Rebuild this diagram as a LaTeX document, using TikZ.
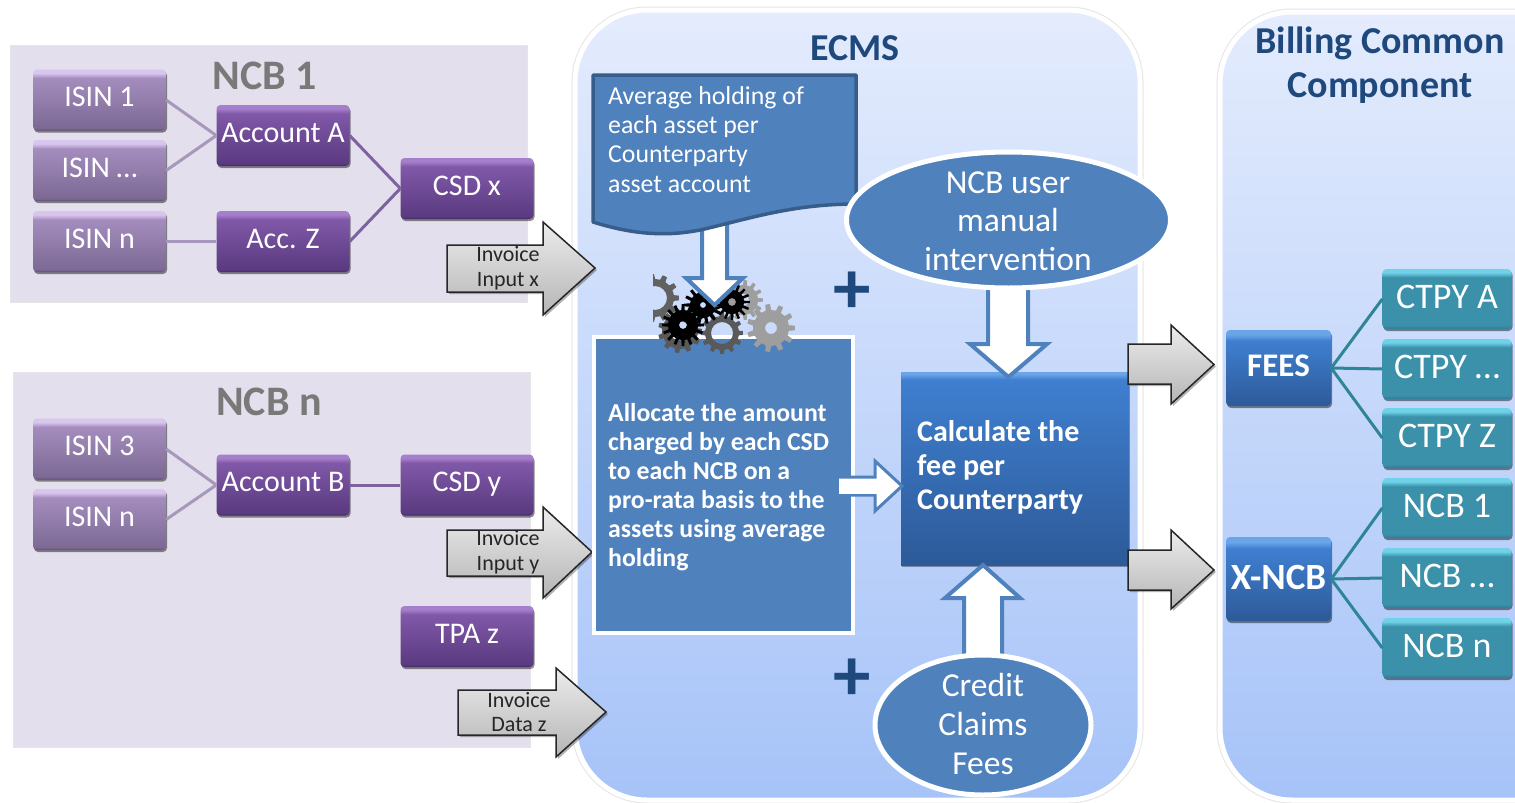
\documentclass[tikz,border=0pt]{standalone}
\usepackage{fontspec}
\setmainfont{Carlito}
\usetikzlibrary{shadows,calc,shapes.geometric}
\definecolor{docblue}{HTML}{4F81BD}
\definecolor{docedge}{HTML}{385D8A}
\definecolor{navy}{HTML}{1F497D}
\definecolor{purpleLe}{HTML}{5C4C72}
\definecolor{purpleLa}{HTML}{7C6994}
\definecolor{purpleLb}{HTML}{A48DBE}
\definecolor{purpleLc}{HTML}{D8C6EE}
\definecolor{purpleDe}{HTML}{432A62}
\definecolor{purpleDa}{HTML}{5A3A80}
\definecolor{purpleDb}{HTML}{8058A8}
\definecolor{purpleDc}{HTML}{A57FCB}
\definecolor{tealA}{HTML}{2E7A92}
\definecolor{tealB}{HTML}{3B90AA}
\definecolor{tealC}{HTML}{6FD2E6}
\definecolor{blueA}{HTML}{2D5A98}
\definecolor{blueB}{HTML}{3F7FD0}
\definecolor{blueC}{HTML}{6AA5E8}
\definecolor{lightlinkc}{HTML}{A797BD}
\definecolor{darklinkc}{HTML}{7D62A0}
\definecolor{teallinkc}{HTML}{2F8598}
\definecolor{groupbg}{HTML}{E4DFEC}
\definecolor{paneltop}{HTML}{E4ECFD}
\definecolor{panelbot}{HTML}{A6C3F8}
\pgfdeclareverticalshading{shpurpled}{100bp}{color(0bp)=(purpleDe);color(25bp)=(purpleDe);color(27bp)=(purpleDa);color(68bp)=(purpleDb);color(72bp)=(purpleDc);color(75bp)=(purpleDc);color(100bp)=(purpleDc)}
\pgfdeclareverticalshading{shteal}{100bp}{color(0bp)=(tealA);color(25bp)=(tealA);color(28bp)=(tealB);color(68bp)=(tealB);color(72bp)=(tealC);color(75bp)=(tealC);color(100bp)=(tealC)}
\pgfdeclareverticalshading{shblue}{100bp}{color(0bp)=(blueA);color(25bp)=(blueA);color(68bp)=(blueB);color(72bp)=(blueC);color(75bp)=(blueC);color(100bp)=(blueC)}
\pgfdeclareverticalshading{shcalc}{100bp}{color(0bp)=(blueA);color(25bp)=(blueA);color(73bp)=(blueB);color(74.5bp)=(blueC);color(75bp)=(blueC);color(100bp)=(blueC)}
\pgfdeclareverticalshading{shlilac}{100bp}{color(0bp)=(purpleLe);color(25bp)=(purpleLe);color(27bp)=(purpleLa);color(68bp)=(purpleLb);color(72bp)=(purpleLc);color(75bp)=(purpleLc);color(100bp)=(purpleLc)}
\tikzset{
  boxbase/.style={rectangle,rounded corners=4pt,inner sep=0pt,text=white,align=center,
    drop shadow={shadow xshift=1pt,shadow yshift=-2pt,opacity=.45,fill=black}},
  lilac/.style={boxbase,shading=shlilac,minimum width=133pt,minimum height=61pt,text height=20pt,text depth=7pt,font=\fontsize{30}{32}\selectfont},
  plum/.style={boxbase,shading=shpurpled,minimum width=133pt,minimum height=61pt,text height=20pt,text depth=7pt,font=\fontsize{30}{32}\selectfont},
  tealbox/.style={boxbase,shading=shteal,minimum width=129pt,minimum height=60pt,text height=26pt,text depth=7pt,font=\fontsize{36}{38}\selectfont},
  bluebox/.style={boxbase,shading=shblue,minimum width=105pt,font=\bfseries},
  lightlink/.style={line width=3pt,draw=lightlinkc},
  darklink/.style={line width=3pt,draw=darklinkc},
  teallink/.style={line width=3pt,draw=teallinkc},
  grouptitle/.style={font=\fontsize{42}{44}\selectfont\bfseries,text=gray!95!black},
  paneltitle/.style={font=\fontsize{38}{44}\selectfont\bfseries,text=navy,align=center},
  graybody/.style={draw=black!85,line width=1.5pt,top color=gray!15,bottom color=gray!58,
    drop shadow={shadow xshift=2pt,shadow yshift=-2pt,opacity=.3,fill=black}},
  hollow/.style={draw=docblue,line width=4pt,fill=white,line join=miter},
  invoicetext/.style={font=\fontsize{22}{24.5}\selectfont,text=black!85,align=center},
  whiteoval/.style={ellipse,fill=docblue,draw=white,line width=5pt,inner sep=0pt,text=white,align=center},
  ovaltext/.style={inner sep=0pt,text=white,align=center,font=\fontsize{33.5}{38.7}\selectfont},
  plussign/.style={inner sep=0pt,text=navy,font=\fontsize{75}{75}\selectfont\bfseries},
}
\newcommand{\gearpath}[7]{%
  \pgfmathsetmacro{\cogstep}{360/#5}
  \fill[#7,even odd rule] ($(#1,#2)+(-.5*\cogstep:#4)$)
    \foreach \cogk in {1,...,#5} {
      -- ($(#1,#2)+({(\cogk-1)*\cogstep-.27*\cogstep}:#4)$)
      -- ($(#1,#2)+({(\cogk-1)*\cogstep-.17*\cogstep}:#3)$)
      -- ($(#1,#2)+({(\cogk-1)*\cogstep+.17*\cogstep}:#3)$)
      -- ($(#1,#2)+({(\cogk-1)*\cogstep+.27*\cogstep}:#4)$)
    } -- cycle (#1,#2) circle[radius=#6];
}
\begin{document}
\begin{tikzpicture}[x=1pt,y=-1pt]
\useasboundingbox (0,0) rectangle (1515,803);
\fill[white] (0,0) rectangle (1515,803);
% group backgrounds
\path[fill=groupbg,draw=black!10] (10,45) rectangle (527,302);
\path[fill=groupbg,draw=black!10] (13,372) rectangle (530,747);
% panels
\draw[black!10,line width=7pt,rounded corners=72pt] (575,10) rectangle (1140,800);
\draw[black!10,line width=7pt,rounded corners=72pt] (1220,12) rectangle (1590,800);
\shade[top color=paneltop,bottom color=panelbot,draw=white,line width=5pt,rounded corners=72pt] (575,10) rectangle (1140,800);
\shade[top color=paneltop,bottom color=panelbot,draw=white,line width=5pt,rounded corners=72pt] (1220,12) rectangle (1590,800);
% group and panel titles
\node[grouptitle] (t1) at (265,76) {NCB 1};
\node[grouptitle] (tn) at (269,402) {NCB n};
\node[paneltitle] (tecms) at (855,48) {ECMS};
\node[paneltitle] (tbill) at (1380,65) {Billing Common\\Component};
% left boxes
\node[lilac] (i1) at (99.5,100) {ISIN 1};
\node[lilac] (i2) at (99.5,170.5) {ISIN …};
\node[lilac] (i3) at (99.5,241.5) {ISIN n};
\node[plum] (aa) at (283,135.5) {Account A};
\node[plum] (az) at (283,241.5) {Acc. Z};
\node[plum] (cx) at (467,188.5) {CSD x};
\node[lilac] (j1) at (99.5,449) {ISIN 3};
\node[lilac] (j2) at (99.5,519.5) {ISIN n};
\node[plum] (ab) at (283,485) {Account B};
\node[plum] (cy) at (467,485) {CSD y};
\node[plum] (tz) at (467,636.5) {TPA z};
\draw[lightlink] (i1.east) -- (aa.west);
\draw[lightlink] (i2.east) -- (aa.west);
\draw[lightlink] (i3.east) -- (az.west);
\draw[darklink] (aa.east) -- (cx.west);
\draw[darklink] (az.east) -- (cx.west);
\draw[lightlink] (j1.east) -- (ab.west);
\draw[lightlink] (j2.east) -- (ab.west);
\draw[darklink] (ab.east) -- (cy.west);
% invoice arrows
\path[graybody] (447,245) -- (543,245) -- (543,222) -- (595,268) -- (543,315) -- (543,292) -- (447,292) -- cycle;
\path[graybody] (447,530) -- (543,530) -- (543,507) -- (592,552) -- (543,598) -- (543,576) -- (447,576) -- cycle;
\path[graybody] (458,690) -- (556,690) -- (556,668) -- (606,712) -- (556,757) -- (556,735) -- (458,735) -- cycle;
\node[invoicetext] (ix) at (508,268) {Invoice\\Input x};
\node[invoicetext] (iy) at (508,552) {Invoice\\Input y};
\node[invoicetext] (iz) at (519,712) {Invoice\\Data z};
% allocate box
\node[rectangle,fill=docblue,draw=white,line width=4.5pt,minimum width=259pt,minimum height=296pt,inner sep=0pt] (alloc) at (723.5,485) {};
\node[anchor=north west,inner sep=0pt,text=white,align=left,font=\fontsize{25.8}{29}\selectfont\bfseries] (alloct) at (608,403) {Allocate the amount\\charged by each CSD\\to each NCB on a\\pro-rata basis to the\\assets using average\\holding};
% gears
\begin{scope}
\clip (653,260) rectangle (700,330);
\gearpath{655}{298}{24}{19}{11}{12}{black!62}
\end{scope}
\gearpath{680}{331}{22}{18}{11}{10}{black!65}
\gearpath{743}{300}{20}{15}{13}{6}{black!38}
\gearpath{722}{333}{21}{17}{12}{11}{black!65}
\gearpath{683}{325}{21}{15}{16}{4}{black}
\gearpath{703}{305}{19}{13}{14}{3}{black}
\gearpath{732}{302}{18}{12}{16}{4}{black}
\gearpath{771}{328}{24}{18}{11}{6}{black!38}
% arrows into boxes
\path[hollow] (702,220) -- (727,220) -- (727,278) -- (743,278) -- (714.5,305) -- (686,278) -- (702,278) -- cycle;
% document
\path[fill=docblue,draw=docedge,line width=3.5pt,line join=round] (593,75) -- (856,75) -- (856,204) .. controls (790,204) and (745,220) .. (700,230) .. controls (660,238) and (625,232) .. (593,222) -- cycle;
\node[anchor=north west,inner sep=0pt,text=white,align=left,font=\fontsize{25.8}{29.4}\selectfont] (doc) at (608,86) {Average holding of\\each asset per\\Counterparty\\asset account};
% right-hand box
\node[rectangle,shading=shcalc,minimum width=228pt,minimum height=193pt,inner sep=0pt,
  drop shadow={shadow xshift=1pt,shadow yshift=-2pt,opacity=.35,fill=black}] (calc) at (1015,468.5) {};
\node[anchor=north west,inner sep=0pt,text=white,align=left,font=\fontsize{30}{34}\selectfont\bfseries] (calct) at (917,420) {Calculate the\\fee per\\Counterparty};
\path[hollow,line width=3pt] (839,477) -- (875,477) -- (875,461) -- (902,486) -- (875,511) -- (875,495) -- (839,495);
\path[fill=white] (839,478.5) rectangle (877,493.5);
% arrows from the ovals
\path[hollow] (988,280) -- (1028,280) -- (1028,344) -- (1047,344) -- (1008.5,377) -- (970,344) -- (988,344) -- cycle;
\path[hollow] (964,670) -- (964,598) -- (945,598) -- (983,565) -- (1020,598) -- (1002,598) -- (1002,670) -- cycle;
% ovals
\node[whiteoval,minimum width=324pt,minimum height=136pt] (user) at (1008.5,220) {};
\node[whiteoval,minimum width=216pt,minimum height=140pt] (cred) at (983,725) {};
\node[ovaltext] (usert) at (1008,221) {NCB user\\manual\\intervention};
\node[ovaltext] (credt) at (983,724) {Credit\\Claims\\Fees};
% plus signs
\node[plussign] (p1) at (852,293) {+};
\node[plussign] (p2) at (852,680) {+};
% output arrows
\path[graybody] (1128,344) -- (1171,344) -- (1171,325) -- (1214,364.5) -- (1171,404) -- (1171,384) -- (1128,384) -- cycle;
\path[graybody] (1128,550) -- (1171,550) -- (1171,530) -- (1214,570) -- (1171,609) -- (1171,590) -- (1128,590) -- cycle;
% billing boxes
\node[bluebox,minimum height=76pt,text height=23pt,text depth=7pt,font=\fontsize{33}{35}\selectfont\bfseries] (fees) at (1278.5,368) {FEES};
\node[bluebox,minimum height=84pt,text height=27pt,text depth=7pt,font=\fontsize{37}{39}\selectfont\bfseries] (xncb) at (1278.5,579) {X-NCB};
\node[tealbox] (c1) at (1447,299) {CTPY A};
\node[tealbox] (c2) at (1447,369) {CTPY …};
\node[tealbox] (c3) at (1447,438) {CTPY Z};
\node[tealbox] (n1) at (1447,508) {NCB 1};
\node[tealbox] (n2) at (1447,578) {NCB …};
\node[tealbox] (n3) at (1447,648) {NCB n};
\draw[teallink] (fees.east) -- (c1.west);
\draw[teallink] (fees.east) -- (c2.west);
\draw[teallink] (fees.east) -- (c3.west);
\draw[teallink] (xncb.east) -- (n1.west);
\draw[teallink] (xncb.east) -- (n2.west);
\draw[teallink] (xncb.east) -- (n3.west);
\end{tikzpicture}
\end{document}
